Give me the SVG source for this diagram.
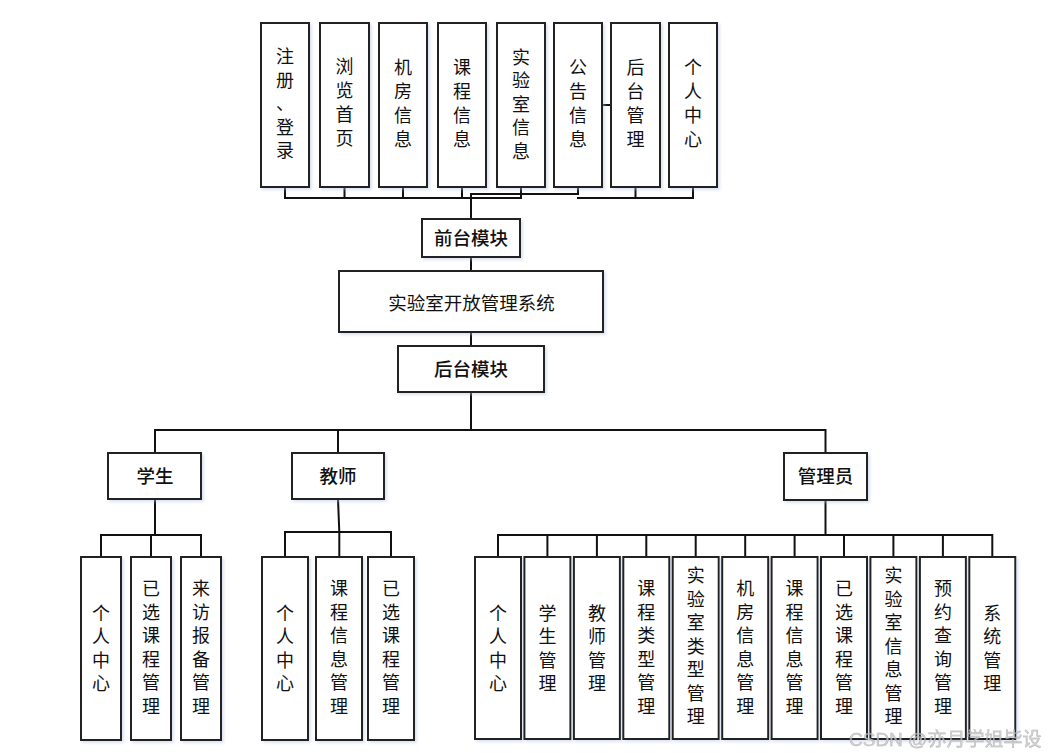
<svg xmlns="http://www.w3.org/2000/svg" width="1055" height="753" viewBox="0 0 1055 753">
<defs>
<filter id="sh" x="-20%" y="-20%" width="140%" height="140%">
<feDropShadow dx="2" dy="2" stdDeviation="1.6" flood-color="#aebfe0" flood-opacity="0.45"/>
</filter>
<style>
.box{fill:#ffffff;stroke:#222222;stroke-width:2;filter:url(#sh)}
.ln{fill:none;stroke:#111111;stroke-width:2;stroke-linecap:square}
.t{font-family:"Noto Sans CJK SC","Liberation Sans",sans-serif;font-size:18px;fill:#111111;text-anchor:middle}
.h{font-family:"Noto Sans CJK SC","Liberation Sans",sans-serif;font-size:18.5px;fill:#111111;text-anchor:middle;font-weight:500}
.m{font-family:"Noto Sans CJK SC","Liberation Sans",sans-serif;font-size:18.5px;fill:#111111;text-anchor:middle}
.wm{font-family:"Liberation Sans","Noto Sans CJK SC",sans-serif;font-size:19px;fill:#c8c8c8;stroke:#a0a0a0;stroke-width:0.4;opacity:0.8}
</style>
</defs>
<rect width="1055" height="753" fill="#ffffff"/>

<g id="connectors">
<path class="ln" d="M285,187 V198 H521 V187 M344.5,187 V198 M403,187 V198 M462,187 V198"/>
<path class="ln" d="M578,187 V194 H471 V219"/>
<path class="ln" d="M578,198 H693 V187 M635.5,187 V198"/>
<path class="ln" d="M602,105 H611"/>
<path class="ln" d="M471,257 V271"/>
<path class="ln" d="M471,332 V346"/>
<path class="ln" d="M471,392 V430"/>
<path class="ln" d="M155,453 V430 H825.5 V453 M338,430 V453"/>
<path class="ln" d="M155,499 V535 M101,557 V535 H201 V557 M151,535 V557"/>
<path class="ln" d="M338,499 L339.3,532 M285,557 V532 H391 V557 M339.3,532 V557"/>
<path class="ln" d="M825.5,500 V535 M498,557 V535 H992.3 V557 M547.4,535 V557 M596.9,535 V557 M646.3,535 V557 M695.7,535 V557 M745.2,535 V557 M794.6,535 V557 M844,535 V557 M893.4,535 V557 M942.9,535 V557"/>
</g>

<g id="n-reg"><rect class="box" x="261" y="23" width="48" height="164"/>
<text class="t"><tspan x="285" y="63">注</tspan><tspan x="285" y="86.5">册</tspan><tspan x="285" y="110">、</tspan><tspan x="285" y="133.5">登</tspan><tspan x="285" y="157">录</tspan></text></g>
<g id="n-browse"><rect class="box" x="320" y="23" width="49" height="164"/>
<text class="t"><tspan x="344.5" y="73">浏</tspan><tspan x="344.5" y="97">览</tspan><tspan x="344.5" y="121">首</tspan><tspan x="344.5" y="145">页</tspan></text></g>
<g id="n-room"><rect class="box" x="379" y="23" width="48" height="164"/>
<text class="t"><tspan x="403" y="74">机</tspan><tspan x="403" y="98">房</tspan><tspan x="403" y="122">信</tspan><tspan x="403" y="146">息</tspan></text></g>
<g id="n-course"><rect class="box" x="438" y="23" width="48" height="164"/>
<text class="t"><tspan x="462" y="74">课</tspan><tspan x="462" y="98">程</tspan><tspan x="462" y="122">信</tspan><tspan x="462" y="146">息</tspan></text></g>
<g id="n-lab"><rect class="box" x="497" y="23" width="48" height="164"/>
<text class="t"><tspan x="521" y="63.5">实</tspan><tspan x="521" y="87">验</tspan><tspan x="521" y="110.5">室</tspan><tspan x="521" y="134">信</tspan><tspan x="521" y="157.5">息</tspan></text></g>
<g id="n-notice"><rect class="box" x="554" y="23" width="48" height="164"/>
<text class="t"><tspan x="578" y="74">公</tspan><tspan x="578" y="98">告</tspan><tspan x="578" y="122">信</tspan><tspan x="578" y="146">息</tspan></text></g>
<g id="n-admin-entry"><rect class="box" x="611" y="23" width="49" height="164"/>
<text class="t"><tspan x="635.5" y="74">后</tspan><tspan x="635.5" y="98">台</tspan><tspan x="635.5" y="122">管</tspan><tspan x="635.5" y="146">理</tspan></text></g>
<g id="n-personal-top"><rect class="box" x="669" y="23" width="48" height="164"/>
<text class="t"><tspan x="693" y="74">个</tspan><tspan x="693" y="98">人</tspan><tspan x="693" y="122">中</tspan><tspan x="693" y="146">心</tspan></text></g>

<g id="n-front"><rect class="box" x="422" y="219" width="98" height="38"/>
<text class="h" x="471" y="245">前台模块</text></g>
<g id="n-system"><rect class="box" x="339" y="271" width="264" height="61"/>
<text class="m" x="471.5" y="309.5">实验室开放管理系统</text></g>
<g id="n-back"><rect class="box" x="398" y="346" width="146" height="46"/>
<text class="h" x="471" y="376">后台模块</text></g>

<g id="n-student"><rect class="box" x="108" y="453" width="93" height="46"/>
<text class="h" x="155" y="483">学生</text></g>
<g id="n-teacher"><rect class="box" x="292" y="453" width="92" height="46"/>
<text class="h" x="338" y="483">教师</text></g>
<g id="n-manager"><rect class="box" x="784" y="453" width="83" height="47"/>
<text class="h" x="825.5" y="483">管理员</text></g>

<g id="s1"><rect class="box" x="81" y="557" width="40" height="183"/>
<text class="t"><tspan x="101" y="619.5">个</tspan><tspan x="101" y="643">人</tspan><tspan x="101" y="666.5">中</tspan><tspan x="101" y="690">心</tspan></text></g>
<g id="s2"><rect class="box" x="131" y="557" width="40" height="183"/>
<text class="t"><tspan x="151" y="595">已</tspan><tspan x="151" y="618.5">选</tspan><tspan x="151" y="642">课</tspan><tspan x="151" y="665.5">程</tspan><tspan x="151" y="689">管</tspan><tspan x="151" y="712.5">理</tspan></text></g>
<g id="s3"><rect class="box" x="181" y="557" width="40" height="183"/>
<text class="t"><tspan x="201" y="595">来</tspan><tspan x="201" y="618.5">访</tspan><tspan x="201" y="642">报</tspan><tspan x="201" y="665.5">备</tspan><tspan x="201" y="689">管</tspan><tspan x="201" y="712.5">理</tspan></text></g>

<g id="t1"><rect class="box" x="262" y="557" width="46" height="183"/>
<text class="t"><tspan x="285" y="619.5">个</tspan><tspan x="285" y="643">人</tspan><tspan x="285" y="666.5">中</tspan><tspan x="285" y="690">心</tspan></text></g>
<g id="t2"><rect class="box" x="316" y="557" width="46" height="183"/>
<text class="t"><tspan x="339" y="595">课</tspan><tspan x="339" y="618.5">程</tspan><tspan x="339" y="642">信</tspan><tspan x="339" y="665.5">息</tspan><tspan x="339" y="689">管</tspan><tspan x="339" y="712.5">理</tspan></text></g>
<g id="t3"><rect class="box" x="368" y="557" width="46" height="183"/>
<text class="t"><tspan x="391" y="595">已</tspan><tspan x="391" y="618.5">选</tspan><tspan x="391" y="642">课</tspan><tspan x="391" y="665.5">程</tspan><tspan x="391" y="689">管</tspan><tspan x="391" y="712.5">理</tspan></text></g>

<g id="a1"><rect class="box" x="475" y="557" width="46" height="182"/>
<text class="t"><tspan x="498" y="619.5">个</tspan><tspan x="498" y="643">人</tspan><tspan x="498" y="666.5">中</tspan><tspan x="498" y="690">心</tspan></text></g>
<g id="a2"><rect class="box" x="524.4" y="557" width="46" height="182"/>
<text class="t"><tspan x="547.4" y="619.5">学</tspan><tspan x="547.4" y="643">生</tspan><tspan x="547.4" y="666.5">管</tspan><tspan x="547.4" y="690">理</tspan></text></g>
<g id="a3"><rect class="box" x="573.9" y="557" width="46" height="182"/>
<text class="t"><tspan x="596.9" y="619.5">教</tspan><tspan x="596.9" y="643">师</tspan><tspan x="596.9" y="666.5">管</tspan><tspan x="596.9" y="690">理</tspan></text></g>
<g id="a4"><rect class="box" x="623.3" y="557" width="46" height="182"/>
<text class="t"><tspan x="646.3" y="595">课</tspan><tspan x="646.3" y="618.5">程</tspan><tspan x="646.3" y="642">类</tspan><tspan x="646.3" y="665.5">型</tspan><tspan x="646.3" y="689">管</tspan><tspan x="646.3" y="712.5">理</tspan></text></g>
<g id="a5"><rect class="box" x="672.7" y="557" width="46" height="182"/>
<text class="t"><tspan x="695.7" y="582">实</tspan><tspan x="695.7" y="605.5">验</tspan><tspan x="695.7" y="629">室</tspan><tspan x="695.7" y="652.5">类</tspan><tspan x="695.7" y="676">型</tspan><tspan x="695.7" y="699.5">管</tspan><tspan x="695.7" y="723">理</tspan></text></g>
<g id="a6"><rect class="box" x="722.2" y="557" width="46" height="182"/>
<text class="t"><tspan x="745.2" y="595">机</tspan><tspan x="745.2" y="618.5">房</tspan><tspan x="745.2" y="642">信</tspan><tspan x="745.2" y="665.5">息</tspan><tspan x="745.2" y="689">管</tspan><tspan x="745.2" y="712.5">理</tspan></text></g>
<g id="a7"><rect class="box" x="771.6" y="557" width="46" height="182"/>
<text class="t"><tspan x="794.6" y="595">课</tspan><tspan x="794.6" y="618.5">程</tspan><tspan x="794.6" y="642">信</tspan><tspan x="794.6" y="665.5">息</tspan><tspan x="794.6" y="689">管</tspan><tspan x="794.6" y="712.5">理</tspan></text></g>
<g id="a8"><rect class="box" x="821" y="557" width="46" height="182"/>
<text class="t"><tspan x="844" y="595">已</tspan><tspan x="844" y="618.5">选</tspan><tspan x="844" y="642">课</tspan><tspan x="844" y="665.5">程</tspan><tspan x="844" y="689">管</tspan><tspan x="844" y="712.5">理</tspan></text></g>
<g id="a9"><rect class="box" x="870.4" y="557" width="46" height="182"/>
<text class="t"><tspan x="893.4" y="582">实</tspan><tspan x="893.4" y="605.5">验</tspan><tspan x="893.4" y="629">室</tspan><tspan x="893.4" y="652.5">信</tspan><tspan x="893.4" y="676">息</tspan><tspan x="893.4" y="699.5">管</tspan><tspan x="893.4" y="723">理</tspan></text></g>
<g id="a10"><rect class="box" x="919.9" y="557" width="46" height="182"/>
<text class="t"><tspan x="942.9" y="595">预</tspan><tspan x="942.9" y="618.5">约</tspan><tspan x="942.9" y="642">查</tspan><tspan x="942.9" y="665.5">询</tspan><tspan x="942.9" y="689">管</tspan><tspan x="942.9" y="712.5">理</tspan></text></g>
<g id="a11"><rect class="box" x="969.3" y="557" width="46" height="182"/>
<text class="t"><tspan x="992.3" y="619.5">系</tspan><tspan x="992.3" y="643">统</tspan><tspan x="992.3" y="666.5">管</tspan><tspan x="992.3" y="690">理</tspan></text></g>

<text class="wm" x="849" y="746">CSDN @亦月学姐毕设</text>
</svg>
